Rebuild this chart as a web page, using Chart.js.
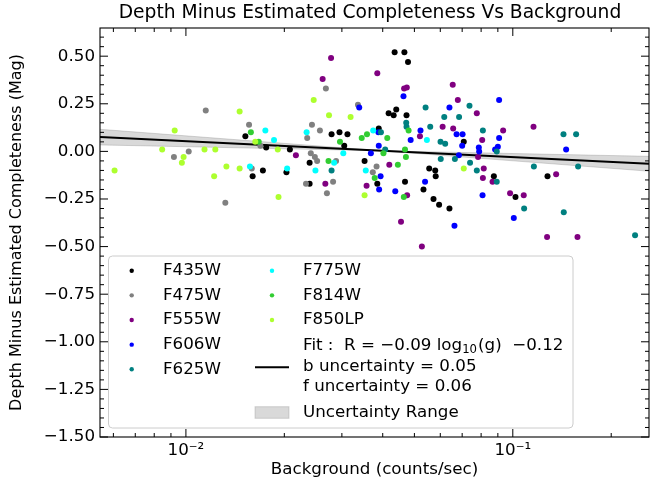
<!DOCTYPE html>
<html>
<head>
<meta charset="utf-8">
<script src="https://cdn.jsdelivr.net/npm/chart.js@4.4.0/dist/chart.umd.min.js"></script>
<style>
body { margin: 0; background: #fff; }
</style>
</head>
<body>
<canvas id="myChart" width="662" height="487"></canvas>
<script>
var filters = ['F435W', 'F475W', 'F555W', 'F606W', 'F625W', 'F775W', 'F814W', 'F850LP'];
var colors = ['#000000', '#808080', '#800080', '#0000ff', '#008080', '#00ffff', '#32cd32', '#adff2f'];

// background (counts/sec) and depth minus estimated completeness (mag), per filter
var f435wX = [0.0152, 0.0160, 0.0172, 0.0176, 0.0203, 0.0208, 0.0239, 0.0239, 0.0279, 0.0295, 0.0312, 0.0305, 0.0435, 0.0466, 0.0478, 0.0417, 0.0432, 0.0440, 0.0473, 0.0389, 0.0352, 0.0385, 0.0468, 0.0708, 0.0555, 0.0579, 0.0581, 0.0533, 0.0572, 0.0595, 0.0640, 0.0875, 0.1019, 0.1277];
var f435wY = [0.08, -0.13, -0.10, 0.02, -0.11, 0.01, -0.06, -0.17, 0.09, 0.10, 0.09, 0.03, 0.52, 0.52, 0.47, 0.20, 0.19, 0.22, 0.19, 0.12, -0.05, -0.17, -0.16, 0.05, -0.09, -0.10, -0.13, -0.20, -0.25, -0.28, -0.30, -0.13, -0.24, -0.13];

var f475wX = [0.00919, 0.0102, 0.0115, 0.0132, 0.0156, 0.0159, 0.0169, 0.0243, 0.0235, 0.0257, 0.0268, 0.0241, 0.0248, 0.0252, 0.0288, 0.0233, 0.0282, 0.0270, 0.0336, 0.0383, 0.0373];
var f475wY = [-0.03, 0.00, 0.215, -0.27, 0.14, -0.09, 0.03, 0.14, 0.07, 0.11, 0.33, -0.01, -0.03, -0.05, -0.05, -0.17, -0.16, -0.22, 0.245, -0.08, -0.11];

var f555wX = [0.0217, 0.0278, 0.0262, 0.0267, 0.0385, 0.0465, 0.0474, 0.0520, 0.0419, 0.0357, 0.0475, 0.0455, 0.0527, 0.0655, 0.0679, 0.0776, 0.0610, 0.0657, 0.0783, 0.0934, 0.1157, 0.0806, 0.0815, 0.0810, 0.0867, 0.0981, 0.1080, 0.1273, 0.1357, 0.1577];
var f555wY = [-0.02, 0.49, 0.38, -0.17, 0.41, 0.33, 0.335, 0.08, -0.07, -0.18, -0.23, -0.37, -0.50, 0.35, 0.27, 0.20, 0.13, 0.12, -0.03, 0.11, 0.13, 0.06, -0.09, -0.14, -0.16, -0.22, -0.23, -0.45, -0.12, -0.45];

var f606wX = [0.0339, 0.0463, 0.0388, 0.0389, 0.0368, 0.0487, 0.0522, 0.0394, 0.0390, 0.0437, 0.0539, 0.0640, 0.0673, 0.0702, 0.0700, 0.0684, 0.0663, 0.0787, 0.0789, 0.0908, 0.0908, 0.0900, 0.0883, 0.0808, 0.1007, 0.1456];
var f606wY = [0.23, 0.29, 0.10, 0.03, -0.01, 0.06, 0.11, -0.13, -0.20, -0.21, -0.16, 0.23, 0.09, 0.09, 0.03, -0.02, -0.39, 0.02, 0.00, 0.27, 0.07, 0.025, 0.01, -0.23, -0.35, 0.01];

var f625wX = [0.0279, 0.0395, 0.0407, 0.0472, 0.0473, 0.0541, 0.0559, 0.0617, 0.0685, 0.0737, 0.0601, 0.0621, 0.0602, 0.0665, 0.0740, 0.0810, 0.0893, 0.0776, 0.0893, 0.1160, 0.1083, 0.1429, 0.1562, 0.1584, 0.1432, 0.2366];
var f625wY = [-0.10, 0.10, 0.01, 0.15, 0.13, 0.23, 0.13, 0.18, 0.18, 0.24, 0.05, 0.04, -0.04, -0.04, -0.06, 0.11, 0.00, -0.10, -0.16, -0.08, -0.30, 0.09, 0.09, -0.08, -0.32, -0.44];

var f775wX = [0.0157, 0.0175, 0.0186, 0.0204, 0.0234, 0.0249, 0.0284, 0.0303, 0.0374, 0.0355, 0.0546];
var f775wY = [-0.08, 0.11, 0.06, -0.09, 0.10, -0.10, -0.06, -0.01, 0.11, -0.10, 0.06];

var f814wX = [0.0158, 0.0167, 0.0296, 0.0273, 0.0345, 0.0358, 0.0413, 0.0480, 0.0402, 0.0468, 0.0471, 0.0378, 0.0445, 0.0464];
var f814wY = [0.10, 0.05, 0.05, -0.05, 0.07, 0.09, 0.07, 0.11, -0.01, 0.01, -0.03, -0.14, -0.07, -0.24];

var f850lpX = [0.00605, 0.00846, 0.00924, 0.00972, 0.00984, 0.0114, 0.0123, 0.0122, 0.0133, 0.0146, 0.0146, 0.0163, 0.0191, 0.0192, 0.0246, 0.0274, 0.0319, 0.0352, 0.0708];
var f850lpY = [-0.10, 0.01, 0.11, -0.06, -0.03, 0.01, 0.01, -0.13, -0.08, 0.21, -0.09, 0.05, 0.01, -0.24, 0.27, 0.19, 0.18, -0.23, -0.09];

var xValues = [f435wX, f475wX, f555wX, f606wX, f625wX, f775wX, f814wX, f850lpX];
var yValues = [f435wY, f475wY, f555wY, f606wY, f625wY, f775wY, f814wY, f850lpY];

// fit line and uncertainty band
var xMin = 0.00546, xMax = 0.261;
var fitX = [xMin, xMax];
var fitY = [0.075, -0.065];
var bandX = [xMin, 0.0398, xMax];
var bandUpper = [0.116, 0.003, -0.026];
var bandLower = [0.034, 0.003, -0.104];

var yMin = -1.5, yMax = 0.648;
var xMajorTicks = [0.01, 0.1];
var xTickLabels = ['10\u207B\u00B2', '10\u207B\u00B9'];
var xMinorTicks = [0.006, 0.007, 0.008, 0.009, 0.02, 0.03, 0.04, 0.05, 0.06, 0.07, 0.08, 0.09, 0.2];
var yMajorTicks = [-1.5, -1.25, -1, -0.75, -0.5, -0.25, 0, 0.25, 0.5];
var yTickLabels = ['\u22121.50', '\u22121.25', '\u22121.00', '\u22120.75', '\u22120.50', '\u22120.25', '0.00', '0.25', '0.50'];

var FONT = '"DejaVu Sans", sans-serif';
var bandColor = 'rgba(128, 128, 128, 0.3)';

function points(xs, ys) {
    return xs.map(function (x, i) { return {x: x, y: ys[i]}; });
}

var datasets = [
    {type: 'line', data: points(bandX, bandUpper), borderColor: bandColor, backgroundColor: bandColor,
        borderWidth: 1, pointRadius: 0, fill: false, order: 20},
    {type: 'line', data: points(bandX, bandLower), borderColor: bandColor, backgroundColor: bandColor,
        borderWidth: 1, pointRadius: 0, fill: '-1', order: 19},
    {type: 'line', data: points(fitX, fitY), borderColor: '#000', borderWidth: 2, pointRadius: 0,
        fill: false, order: 18}
];
filters.forEach(function (f, i) {
    datasets.push({
        type: 'scatter',
        label: f,
        data: points(xValues[i], yValues[i]),
        backgroundColor: colors[i],
        borderWidth: 0,
        pointRadius: 3,
        pointHoverRadius: 3,
        order: 8 - i
    });
});

var decorations = {
    id: 'decorations',
    afterDraw: function (chart) {
        var ctx = chart.ctx, a = chart.chartArea;
        var xs = chart.scales.x, ys = chart.scales.y;
        ctx.save();

        ctx.fillStyle = '#000';
        ctx.font = '18.7px ' + FONT;
        ctx.textAlign = 'center';
        ctx.textBaseline = 'middle';
        ctx.fillText('Depth Minus Estimated Completeness Vs Background', 370, 13);

        ctx.strokeStyle = '#000';
        ctx.lineWidth = 1.1;
        ctx.strokeRect(a.left, a.top, a.right - a.left, a.bottom - a.top);

        function tick(x1, y1, x2, y2) {
            ctx.beginPath(); ctx.moveTo(x1, y1); ctx.lineTo(x2, y2); ctx.stroke();
        }
        ctx.lineWidth = 1;
        xMajorTicks.forEach(function (v) {
            var p = xs.getPixelForValue(v);
            tick(p, a.bottom, p, a.bottom - 8); tick(p, a.top, p, a.top + 8);
        });
        xMinorTicks.forEach(function (v) {
            var p = xs.getPixelForValue(v);
            tick(p, a.bottom, p, a.bottom - 4); tick(p, a.top, p, a.top + 4);
        });
        for (var k = -30; k <= 12; k++) {
            var p = ys.getPixelForValue(k * 0.05);
            var len = (k % 5 === 0) ? 8 : 4;
            tick(a.left, p, a.left + len, p); tick(a.right, p, a.right - len, p);
        }

        // legend
        var bx = 108.5, by = 256, bw = 464.5, bh = 172, r = 4;
        ctx.beginPath();
        ctx.moveTo(bx + r, by);
        ctx.arcTo(bx + bw, by, bx + bw, by + bh, r);
        ctx.arcTo(bx + bw, by + bh, bx, by + bh, r);
        ctx.arcTo(bx, by + bh, bx, by, r);
        ctx.arcTo(bx, by, bx + bw, by, r);
        ctx.closePath();
        ctx.fillStyle = 'rgba(255, 255, 255, 0.8)';
        ctx.fill();
        ctx.strokeStyle = '#cccccc';
        ctx.lineWidth = 1;
        ctx.stroke();

        ctx.font = '16.7px ' + FONT;
        ctx.textAlign = 'left';
        ctx.textBaseline = 'middle';
        var rowY = function (i) { return 270.7 + i * 24.65; };
        filters.forEach(function (f, i) {
            var col = i < 5 ? 0 : 1, row = i < 5 ? i : i - 5;
            var mx = col ? 272 : 131.7, tx = col ? 303 : 163;
            ctx.fillStyle = colors[i];
            ctx.beginPath(); ctx.arc(mx, rowY(row), 2.2, 0, Math.PI * 2); ctx.fill();
            ctx.fillStyle = '#000';
            ctx.fillText(f, tx, rowY(row));
        });

        ctx.strokeStyle = '#000';
        ctx.lineWidth = 2;
        tick(255, 367.3, 289, 367.3);
        ctx.fillStyle = '#000';
        var fx = 303, fy = 346;
        var s1 = 'Fit :  R = \u22120.09 log';
        ctx.fillText(s1, fx, fy);
        fx += ctx.measureText(s1).width;
        ctx.font = '11.7px ' + FONT;
        ctx.fillText('10', fx, fy + 4);
        fx += ctx.measureText('10').width;
        ctx.font = '16.7px ' + FONT;
        ctx.fillText('(g)  \u22120.12', fx + 1, fy);
        ctx.fillText('b uncertainty = 0.05', 303, 366.5);
        ctx.fillText('f uncertainty = 0.06', 303, 387);

        ctx.fillStyle = bandColor;
        ctx.strokeStyle = bandColor;
        ctx.lineWidth = 1;
        ctx.fillRect(255, 406.7, 34, 11.6);
        ctx.strokeRect(255, 406.7, 34, 11.6);
        ctx.fillStyle = '#000';
        ctx.fillText('Uncertainty Range', 303, 412.7);

        ctx.restore();
    }
};

Chart.defaults.color = '#000';
Chart.defaults.font.family = FONT;

var ctx = document.getElementById('myChart').getContext('2d');
var myChart = new Chart(ctx, {
    type: 'scatter',
    data: {datasets: datasets},
    options: {
        responsive: false,
        animation: false,
        devicePixelRatio: 1,
        layout: {padding: {top: 28, right: 13, left: 0, bottom: 0}},
        plugins: {
            legend: {display: false},
            tooltip: {enabled: false}
        },
        scales: {
            x: {
                type: 'logarithmic',
                min: xMin,
                max: xMax,
                afterBuildTicks: function (s) { s.ticks = xMajorTicks.map(function (v) { return {value: v}; }); },
                afterFit: function (s) { s.height = 50; },
                grid: {display: false, drawTicks: false},
                border: {display: false},
                ticks: {
                    autoSkip: false, maxRotation: 0, padding: 4,
                    font: {size: 16.7},
                    callback: function (v, i) { return xTickLabels[i]; }
                },
                title: {display: true, text: 'Background (counts/sec)', font: {size: 16.7}, padding: {top: 0, bottom: 7}}
            },
            y: {
                min: yMin,
                max: yMax,
                afterBuildTicks: function (s) { s.ticks = yMajorTicks.map(function (v) { return {value: v}; }); },
                afterFit: function (s) { s.width = 100; },
                grid: {display: false, drawTicks: false},
                border: {display: false},
                ticks: {
                    padding: 5,
                    font: {size: 16.7},
                    callback: function (v, i) { return yTickLabels[i]; }
                },
                title: {display: true, text: 'Depth Minus Estimated Completeness (Mag)', font: {size: 16}, padding: {top: 7, bottom: 0}}
            }
        }
    },
    plugins: [decorations]
});
</script>
</body>
</html>
